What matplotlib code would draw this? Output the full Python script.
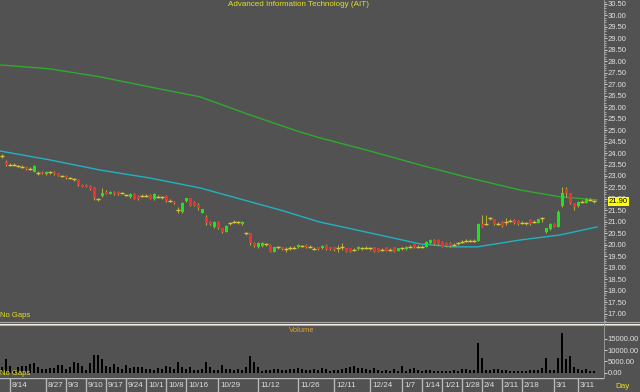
import matplotlib
matplotlib.use("Agg")
import matplotlib.pyplot as plt
from matplotlib.lines import Line2D
from matplotlib.ticker import MultipleLocator, FuncFormatter
import matplotlib.transforms as mtransforms

# daily candles for AIT, 8/9/2018 .. 3/15/2019 (one slot per trading day)
opens = [23.85, 23.63, 23.48, 23.48, 23.44, 23.41, 23.41, 23.31, 23.19, 23.12,
         23.19, 23.09, 23.16, 23.19, 23.12, 23.00, 23.02, 22.90, 22.86, 22.83,
         22.61, 22.61, 22.57, 22.51, 21.99, 22.13, 22.32, 22.22, 22.32, 22.32,
         22.25, 22.17, 22.07, 22.22, 22.13, 22.13, 22.14, 22.17, 22.00, 22.10,
         22.07, 22.13, 21.93, 21.88, 21.52, 21.45, 21.91, 22.03, 21.88, 21.74,
         21.40, 21.23, 21.01, 20.76, 21.01, 20.72, 20.58, 20.94, 21.01, 20.98,
         20.89, 20.50, 20.50, 20.10, 19.89, 19.95, 20.02, 19.99, 19.70, 19.89,
         19.89, 19.82, 19.85, 19.88, 19.89, 19.95, 19.99, 19.92, 19.82, 19.89,
         19.85, 19.99, 19.89, 19.89, 19.85, 19.92, 19.85, 19.85, 19.78, 19.81,
         19.85, 19.88, 19.85, 19.89, 19.85, 19.78, 19.89, 19.78, 19.89, 19.75,
         19.85, 19.81, 19.92, 20.02, 19.92, 19.92, 19.92, 20.07, 20.21, 20.21,
         20.14, 20.10, 20.10, 19.99, 20.07, 20.14, 20.18, 20.18, 20.18, 20.18,
         20.91, 20.91, 21.16, 21.11, 20.91, 21.01, 21.01, 21.06, 21.09, 21.06,
         20.97, 20.94, 21.09, 21.01, 20.97, 21.16, 20.58, 20.68, 20.91, 20.79,
         21.70, 22.42, 22.25, 21.81, 21.70, 21.88, 21.84, 21.96, 21.90]
highs = [23.95, 23.70, 23.55, 23.55, 23.50, 23.48, 23.45, 23.38, 23.48, 23.20,
         23.22, 23.22, 23.22, 23.22, 23.15, 23.06, 23.05, 22.96, 22.93, 22.88,
         22.63, 22.63, 22.60, 22.53, 22.06, 22.46, 22.40, 22.35, 22.35, 22.35,
         22.30, 22.23, 22.25, 22.25, 22.16, 22.20, 22.22, 22.20, 22.25, 22.16,
         22.13, 22.16, 22.00, 21.90, 21.66, 21.85, 22.06, 22.06, 21.91, 21.81,
         21.58, 21.30, 21.04, 21.04, 21.04, 20.75, 20.85, 21.01, 21.08, 21.04,
         21.04, 20.58, 20.53, 20.12, 20.13, 20.13, 20.10, 20.02, 19.92, 19.95,
         19.92, 19.89, 19.95, 19.95, 20.02, 20.00, 20.02, 19.98, 19.90, 19.92,
         19.98, 20.02, 19.92, 19.92, 19.99, 20.07, 19.88, 19.88, 19.85, 19.95,
         19.92, 19.95, 19.92, 19.92, 19.88, 19.85, 19.92, 19.85, 19.92, 19.88,
         19.92, 19.95, 19.99, 20.05, 19.99, 19.99, 20.17, 20.24, 20.24, 20.24,
         20.17, 20.13, 20.13, 20.06, 20.14, 20.21, 20.25, 20.25, 20.25, 20.94,
         21.30, 21.30, 21.22, 21.14, 20.98, 21.04, 21.16, 21.12, 21.12, 21.09,
         21.03, 21.00, 21.12, 21.07, 21.14, 21.23, 20.75, 20.94, 20.94, 21.52,
         22.54, 22.54, 22.28, 21.84, 21.91, 21.95, 22.02, 22.03, 21.97]
lows = [23.78, 23.45, 23.42, 23.42, 23.38, 23.35, 23.26, 23.24, 23.16, 23.05,
        23.10, 23.03, 23.10, 23.06, 22.98, 22.95, 22.89, 22.85, 22.80, 22.58,
        22.52, 22.52, 22.40, 21.96, 21.93, 22.10, 22.20, 22.20, 22.17, 22.18,
        22.20, 22.12, 22.04, 21.98, 21.97, 22.07, 22.07, 21.98, 21.97, 22.04,
        22.01, 21.88, 21.87, 21.78, 21.40, 21.40, 21.88, 21.68, 21.68, 21.52,
        21.37, 20.87, 20.88, 20.72, 20.69, 20.50, 20.55, 20.88, 20.95, 20.92,
        20.86, 20.42, 19.98, 19.92, 19.86, 19.92, 19.95, 19.67, 19.67, 19.83,
        19.77, 19.70, 19.78, 19.80, 19.86, 19.90, 19.86, 19.85, 19.76, 19.77,
        19.82, 19.78, 19.78, 19.75, 19.70, 19.78, 19.67, 19.67, 19.72, 19.78,
        19.78, 19.80, 19.78, 19.67, 19.67, 19.72, 19.72, 19.72, 19.67, 19.72,
        19.78, 19.78, 19.85, 19.86, 19.85, 19.85, 19.89, 20.04, 20.01, 20.01,
        19.89, 19.92, 19.92, 19.93, 20.01, 20.08, 20.12, 20.12, 20.12, 20.15,
        20.76, 20.87, 21.10, 20.88, 20.85, 20.79, 20.87, 21.00, 20.91, 20.88,
        20.91, 20.88, 20.88, 20.95, 20.94, 21.01, 20.50, 20.65, 20.76, 20.76,
        21.67, 22.10, 21.78, 21.52, 21.67, 21.82, 21.81, 21.90, 21.84]
closes = [23.85, 23.48, 23.48, 23.48, 23.44, 23.41, 23.29, 23.31, 23.44, 23.12,
          23.12, 23.19, 23.16, 23.09, 23.00, 23.00, 22.91, 22.90, 22.86, 22.61,
          22.54, 22.54, 22.42, 22.03, 21.99, 22.25, 22.22, 22.32, 22.20, 22.22,
          22.25, 22.17, 22.22, 22.00, 22.00, 22.13, 22.14, 22.00, 22.22, 22.10,
          22.07, 21.91, 21.93, 21.81, 21.52, 21.81, 22.03, 21.71, 21.71, 21.59,
          21.55, 20.97, 20.91, 21.01, 20.72, 20.58, 20.82, 20.94, 21.01, 20.98,
          21.01, 20.50, 20.10, 19.95, 20.10, 20.10, 20.02, 19.70, 19.89, 19.89,
          19.80, 19.82, 19.85, 19.88, 19.99, 19.95, 19.89, 19.92, 19.82, 19.80,
          19.95, 19.81, 19.81, 19.78, 19.85, 19.92, 19.70, 19.70, 19.78, 19.92,
          19.85, 19.88, 19.85, 19.70, 19.70, 19.78, 19.75, 19.78, 19.70, 19.85,
          19.85, 19.92, 19.92, 19.89, 19.92, 19.92, 20.14, 20.21, 20.04, 20.04,
          19.92, 19.95, 19.95, 19.99, 20.07, 20.14, 20.18, 20.18, 20.18, 20.91,
          20.79, 20.91, 21.16, 20.91, 20.91, 20.82, 21.01, 21.06, 20.94, 20.91,
          20.97, 20.94, 20.91, 21.01, 21.11, 21.16, 20.72, 20.91, 20.79, 21.45,
          22.25, 22.28, 21.81, 21.64, 21.88, 21.88, 21.99, 21.96, 21.90]
volumes = [2500, 5900, 2950, 1200, 2370, 3100, 3100, 3840, 4130, 2370,
           1490, 1490, 1930, 1930, 3400, 3400, 1490, 2660, 4860, 4420,
           2950, 1200, 4420, 7800, 7800, 5900, 2950, 2370, 3840, 2370,
           1490, 3400, 1930, 2370, 2370, 2370, 1490, 1490, 1200, 1930,
           1490, 2950, 2370, 1490, 4860, 2660, 1490, 2660, 1200, 1200,
           1490, 4860, 2370, 1200, 1200, 3400, 1490, 1490, 1200, 1490,
           1200, 2660, 7500, 4860, 2660, 900, 1200, 1200, 1490, 1490,
           1200, 1200, 1490, 1490, 1930, 1490, 1200, 1200, 1490, 1200,
           1930, 1490, 900, 1200, 1200, 1490, 1930, 2660, 2950, 1930,
           1930, 1490, 1200, 1930, 1200, 900, 1200, 900, 1490, 900,
           2950, 900, 1490, 1930, 1200, 900, 1200, 1200, 900, 900,
           900, 900, 900, 1200, 900, 1490, 1490, 1200, 1200, 13300,
           6400, 1200, 1200, 1490, 1490, 1200, 1200, 900, 900, 900,
           900, 900, 1200, 1200, 1200, 1930, 6700, 1200, 1200, 6700,
           17700, 6000, 7200, 2370, 1490, 1200, 1490, 900, 900]

# moving averages at a handful of candle positions
ma_long_idx = [-0.5, 12, 24.5, 37, 49.5, 62, 74.5, 79.5, 92, 104.5, 117, 129.5, 139.5, 148.75]
ma_long_val = [27.84, 27.67, 27.32, 26.88, 26.45, 25.66, 24.92, 24.66, 24.09, 23.48,
               22.91, 22.39, 22.09, 21.96]
ma_short_idx = [-0.5, 12, 24.5, 37, 49.5, 59.5, 69.5, 79.5, 92, 104.5, 112.75, 118.75,
                129.5, 139.5, 148.75]
ma_short_val = [24.09, 23.70, 23.26, 22.91, 22.48, 22.00, 21.52, 20.99, 20.52, 20.04,
                19.91, 19.91, 20.21, 20.43, 20.78]

date_idx = [2, 11, 16, 21, 26, 31, 36, 41, 46, 54, 64, 74, 83, 92, 100, 105,
            110, 115, 120, 125, 130, 138, 144]
date_lbl = ["8/14", "8/27", "9/3", "9/10", "9/17", "9/24", "10/1", "10/8", "10/16",
            "10/29", "11/12", "11/26", "12/11", "12/24", "1/7", "1/14", "1/21",
            "1/28", "2/4", "2/11", "2/18", "3/1", "3/11"]
last_price = 21.90

BG = "#525252"
FG = "#e0e0e0"
YEL = "#e6e020"
FS = 5.5
plt.rcParams["font.family"] = ["Liberation Sans", "DejaVu Sans"]

W, H = 640, 392
def box(x0, y0, x1, y1):
    return [x0 / W, 1 - y1 / H, (x1 - x0) / W, (y1 - y0) / H]

fig = plt.figure(figsize=(6.4, 3.92), dpi=100)
fig.patch.set_facecolor(BG)
ax = fig.add_axes(box(0, 0, 604, 321))
axv = fig.add_axes(box(0, 327, 604, 378), sharex=ax)
axd = fig.add_axes(box(0, 378, 604, 392), sharex=ax)

for a in (ax, axv, axd):
    a.set_facecolor(BG)
    for s in a.spines.values():
        s.set_visible(False)

# candles
idx = list(range(len(closes)))
wick_col = "#b8a838"
for i in idx:
    o, h, l, c = opens[i], highs[i], lows[i], closes[i]
    ax.vlines(i, l, h, color=wick_col, lw=0.8, zorder=2)
    if c > o:
        ax.bar(i, c - o, bottom=o, width=0.75, color="#18e818", lw=0, zorder=3)
    elif c < o:
        ax.bar(i, o - c, bottom=c, width=0.75, color="#f03030", lw=0, zorder=3)
    else:
        ax.hlines(c, i - 0.4, i + 0.4, color="#d8c838", lw=1.0, zorder=3)

ax.plot(ma_long_idx, ma_long_val, color="#2eaa2e", lw=1.0, zorder=1)
ax.plot(ma_short_idx, ma_short_val, color="#22b2c0", lw=1.0, zorder=1)

ax.set_xlim(-0.5, 150.5)
ax.set_ylim(16.68, 30.67)
ax.yaxis.tick_right()
ax.set_yticks([v / 2 for v in range(34, 62)])
ax.yaxis.set_minor_locator(MultipleLocator(0.1))
ax.yaxis.set_major_formatter(FuncFormatter(lambda v, p: "%.2f" % v))
ax.tick_params(axis="y", which="major", colors="#c8c8c8", labelcolor=FG,
               labelsize=FS, length=2, width=0.8, pad=0.8)
ax.tick_params(axis="y", which="minor", colors="#a8a8a8", length=1.2, width=0.8)
ax.tick_params(axis="x", bottom=False, labelbottom=False)

trans = mtransforms.blended_transform_factory(ax.transAxes, ax.transData)
ax.text(1.008, last_price, "%.2f" % last_price, transform=trans, color="black",
        fontsize=FS, va="center", ha="left", zorder=10, clip_on=False,
        bbox=dict(fc="#ffff00", ec="none", pad=0.8))
ax.text(0.0, 0.005, "No Gaps", transform=ax.transAxes, color=YEL, fontsize=FS,
        ha="left", va="bottom")

# volume
axv.bar(idx, volumes, width=0.45, color="black", lw=0)
axv.set_ylim(-2340, 20160)
axv.yaxis.tick_right()
axv.set_yticks([0, 5000, 10000, 15000])
axv.yaxis.set_major_formatter(FuncFormatter(lambda v, p: "%.2f" % v))
axv.tick_params(axis="y", colors="#c8c8c8", labelcolor=FG, labelsize=FS,
                length=2, width=0.8, pad=0.8)
axv.tick_params(axis="x", bottom=False, labelbottom=False)
axv.text(0.5, 0.93, "Volume", transform=axv.transAxes, color="#e8a028",
         fontsize=FS, ha="center", va="center")
axv.text(0.0, 0.02, "No Gaps", transform=axv.transAxes, color=YEL, fontsize=FS,
         ha="left", va="bottom")

# date strip
axd.set_ylim(0, 1)
axd.set_yticks([])
axd.tick_params(axis="x", bottom=False, labelbottom=False)
axd.axhline(1, color="#b8b8b8", lw=1)
for d, t in zip(date_idx, date_lbl):
    axd.vlines(d, 0, 1, color="#b8b8b8", lw=1)
    axd.text(d + 0.5, 0.45, t, color=FG, fontsize=FS + 0.3, ha="left", va="center")

fig.text(622 / W, 1 - 386 / H, "Day", color=YEL, fontsize=FS + 0.3, ha="center", va="center")
fig.text(299 / W, 1 - 5 / H, "Advanced Information Technology (AIT)", color=YEL,
         fontsize=FS + 0.3, ha="center", va="center")

# panel separator
for y, col in ((322, "#a8a8a8"), (323.5, "#f4f4f4"), (325, "#f0a030")):
    fig.add_artist(Line2D([0, 1], [1 - y / H, 1 - y / H], transform=fig.transFigure,
                          color=col, lw=0.8))
fig.add_artist(Line2D([604 / W, 604 / W], [1 - 378 / H, 1], transform=fig.transFigure,
                      color="#a0a0a0", lw=0.6))

fig.savefig("out.png", dpi=100, facecolor=BG)
